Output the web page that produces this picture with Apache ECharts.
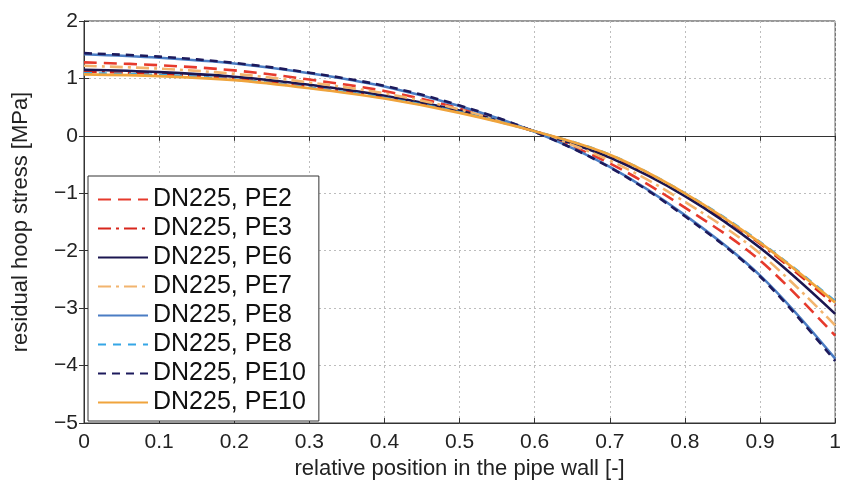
<!DOCTYPE html>
<html>
<head>
<meta charset="utf-8">
<script src="https://cdn.jsdelivr.net/npm/echarts@6/dist/echarts.min.js"></script>
<style>
html, body { margin: 0; padding: 0; background: #fff; }
#main { width: 844px; height: 488px; }
</style>
</head>
<body>
<div id="main"></div>
<script>
// relative position in the wall
var xPos = [0, 0.1, 0.2, 0.3, 0.4, 0.5, 0.6, 0.7, 0.8, 0.9, 1];

var pe2 = [1.28, 1.23, 1.14, 0.98, 0.78, 0.48, 0.07, -0.48, -1.25, -2.17, -3.48];
var pe3 = [1.12, 1.08, 1.00, 0.86, 0.68, 0.43, 0.08, -0.35, -1.02, -1.88, -2.95];
var pe6 = [1.15, 1.11, 1.03, 0.89, 0.70, 0.44, 0.08, -0.38, -1.05, -1.95, -3.10];
var pe7 = [1.22, 1.17, 1.08, 0.93, 0.74, 0.46, 0.07, -0.43, -1.15, -2.05, -3.30];
var pe8a = [1.42, 1.36, 1.26, 1.09, 0.86, 0.52, 0.07, -0.54, -1.38, -2.43, -3.88];
var pe8b = [1.09, 1.06, 0.98, 0.84, 0.66, 0.41, 0.08, -0.33, -1.00, -1.85, -2.88];
var pe10a = [1.44, 1.38, 1.27, 1.10, 0.87, 0.53, 0.07, -0.55, -1.40, -2.45, -3.92];
var pe10b = [1.07, 1.04, 0.97, 0.83, 0.65, 0.40, 0.08, -0.33, -1.00, -1.86, -2.90];

var seriesNames = ['DN225, PE2', 'DN225, PE3', 'DN225, PE6', 'DN225, PE7',
	'DN225, PE8', 'DN225, PE8', 'DN225, PE10', 'DN225, PE10'];
var seriesValues = [pe2, pe3, pe6, pe7, pe8a, pe8b, pe10a, pe10b];
var seriesColors = ['#e63a2c', '#d8261c', '#1b1650', '#f2b46e',
	'#4b7dc4', '#35a6e6', '#1d1a5c', '#f0a43c'];
var seriesDash = [[13, 7], [13, 5, 3, 5], 'solid', [13, 5, 3, 5],
	'solid', [8, 7], [8, 6], 'solid'];

var FONT = '"Liberation Sans", Arial, sans-serif';

function toPoints(vals) {
	var pts = [];
	for (var i = 0; i < xPos.length; i++) {
		pts.push([xPos[i], vals[i]]);
	}
	return pts;
}

var series = [];
for (var i = 0; i < seriesValues.length; i++) {
	series.push({
		// names repeat, so pad them with zero width chars to keep legend entries apart
		id: 's' + i,
		name: seriesNames[i] + '\u200b'.repeat(i),
		type: 'line',
		smooth: 0.35,
		symbol: 'none',
		data: toPoints(seriesValues[i]),
		lineStyle: {
			color: seriesColors[i],
			width: 2.6,
			type: seriesDash[i]
		},
		itemStyle: { color: seriesColors[i] },
		z: 10 + i
	});
}

var legendData = [];
for (var i = 0; i < series.length; i++) {
	legendData.push(series[i].name);
}

var chart = echarts.init(document.getElementById('main'));
var gridLine = { show: true, lineStyle: { color: '#bdbdbd', type: [2, 3], width: 1 } };
var tickInside = { show: true, inside: true, length: 5, lineStyle: { color: '#333' } };

chart.setOption({
	animation: false,
	grid: {
		left: 84, right: 4, top: 21, bottom: 65,
		show: true, borderColor: '#333', borderWidth: 1, backgroundColor: 'transparent'
	},
	legend: {
		data: legendData,
		orient: 'vertical',
		left: 88,
		top: 176,
		padding: [9, 13, 4, 9],
		itemWidth: 50,
		itemHeight: 14,
		itemGap: 0,
		backgroundColor: '#fff',
		borderColor: '#333',
		borderWidth: 1,
		selectedMode: false,
		itemStyle: { opacity: 0 },
		textStyle: {
			fontFamily: FONT, fontSize: 25, color: '#111', lineHeight: 29
		},
		formatter: function (name) {
			return name.replace(/\u200b/g, '');
		}
	},
	xAxis: [{
		type: 'value', min: 0, max: 1, interval: 0.1,
		name: 'relative position in the pipe wall [-]',
		nameLocation: 'middle', nameGap: 33,
		nameTextStyle: { fontFamily: FONT, fontSize: 22, color: '#222' },
		axisLine: { show: true, onZero: false, lineStyle: { color: '#333' } },
		axisTick: tickInside,
		axisLabel: { fontFamily: FONT, fontSize: 21, color: '#222', margin: 9 },
		splitLine: gridLine
	}, {
		type: 'value', min: 0, max: 1, interval: 0.1, position: 'top',
		axisLine: { show: true, lineStyle: { color: '#333' } },
		axisTick: tickInside, axisLabel: { show: false }, splitLine: { show: false }
	}],
	yAxis: [{
		type: 'value', min: -5, max: 2, interval: 1,
		name: 'residual hoop stress [MPa]',
		nameLocation: 'middle', nameGap: 52, nameRotate: 90,
		nameTextStyle: { fontFamily: FONT, fontSize: 22, color: '#222' },
		axisLine: { show: true, onZero: false, lineStyle: { color: '#333' } },
		axisTick: tickInside,
		axisLabel: {
			fontFamily: FONT, fontSize: 21, color: '#222', margin: 6,
			formatter: function (v) { return String(v).replace('-', '\u2212'); }
		},
		splitLine: gridLine
	}, {
		type: 'value', min: -5, max: 2, interval: 1, position: 'right',
		axisLine: { show: true, lineStyle: { color: '#333' } },
		axisTick: tickInside, axisLabel: { show: false }, splitLine: { show: false }
	}],
	series: series
});
</script>
</body>
</html>
